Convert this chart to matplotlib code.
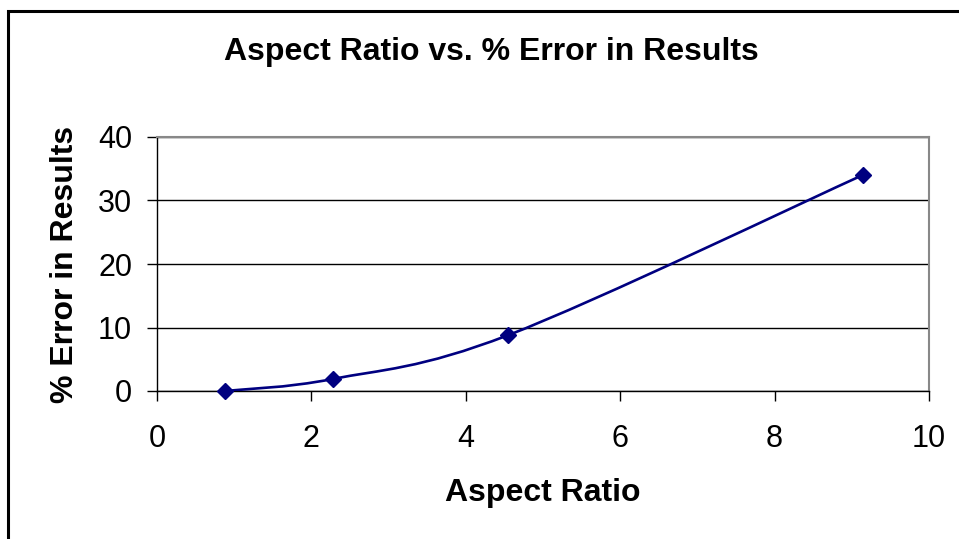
import numpy as np
import matplotlib
matplotlib.use("Agg")
import matplotlib.pyplot as plt
from matplotlib.path import Path
from matplotlib.patches import PathPatch, Rectangle

# ---------------------------------------------
# Datos
# ---------------------------------------------

aspect_ratio = [0.88, 2.28, 4.55, 9.14]
error_pct = [0.0, 1.9, 8.8, 34.0]

x_ticks = [0, 2, 4, 6, 8, 10]
y_ticks = [0, 10, 20, 30, 40]

title = "Aspect Ratio vs. % Error in Results"
x_label = "Aspect Ratio"
y_label = "% Error in Results"

line_color = "#000080"

plt.rcParams["font.family"] = ["Liberation Sans", "DejaVu Sans"]

# ---------------------------------------------
# Figura
# ---------------------------------------------

fig = plt.figure(figsize=(9.59, 5.39), dpi=100)
W, H = 959, 539
ax = fig.add_axes([157 / W, 1 - 391 / H, (929 - 157) / W, (391 - 137) / H])

# linea suavizada (bezier tipo Excel)
pts = np.column_stack([aspect_ratio, error_pct])
n = len(pts)
verts = [tuple(pts[0])]
codes = [Path.MOVETO]
for i in range(n - 1):
    p0 = pts[max(i - 1, 0)]
    p1 = pts[i]
    p2 = pts[i + 1]
    p3 = pts[min(i + 2, n - 1)]
    c1 = p1 + (p2 - p0) / 6
    c2 = p2 - (p3 - p1) / 6
    verts += [tuple(c1), tuple(c2), tuple(p2)]
    codes += [Path.CURVE4] * 3

ax.add_patch(PathPatch(Path(verts, codes), facecolor="none",
                       edgecolor=line_color, linewidth=1.9, zorder=3))

ax.plot(aspect_ratio, error_pct, linestyle="none", marker="D",
        markersize=8.5, color=line_color, zorder=4, clip_on=False)

ax.set_xlim(0, 10)
ax.set_ylim(0, 40)
ax.set_xticks(x_ticks)
ax.set_yticks(y_ticks)

ax.grid(True, axis="y", color="black", linewidth=1)
ax.set_axisbelow(True)

for side in ["top", "right"]:
    ax.spines[side].set_color("#888888")
    ax.spines[side].set_linewidth(1.5)
for side in ["left", "bottom"]:
    ax.spines[side].set_color("black")
    ax.spines[side].set_linewidth(1)

ax.tick_params(axis="both", direction="out", length=7, width=1,
               labelsize=22, color="black")
ax.tick_params(axis="x", pad=17)
ax.tick_params(axis="y", pad=11)

ax.set_xlabel(x_label, fontsize=23, fontweight="bold", labelpad=17)
ax.set_ylabel(y_label, fontsize=23, fontweight="bold", labelpad=13)

fig.text(491 / W, 1 - 52 / H, title, fontsize=23, fontweight="bold",
         ha="center", va="center")

# borde del grafico
fig.patches.append(Rectangle((8 / W, -0.1), 1.2, 1 - 11 / H + 0.1,
                             transform=fig.transFigure, fill=False,
                             edgecolor="black", linewidth=2.2))

fig.savefig("out.png", dpi=100)
